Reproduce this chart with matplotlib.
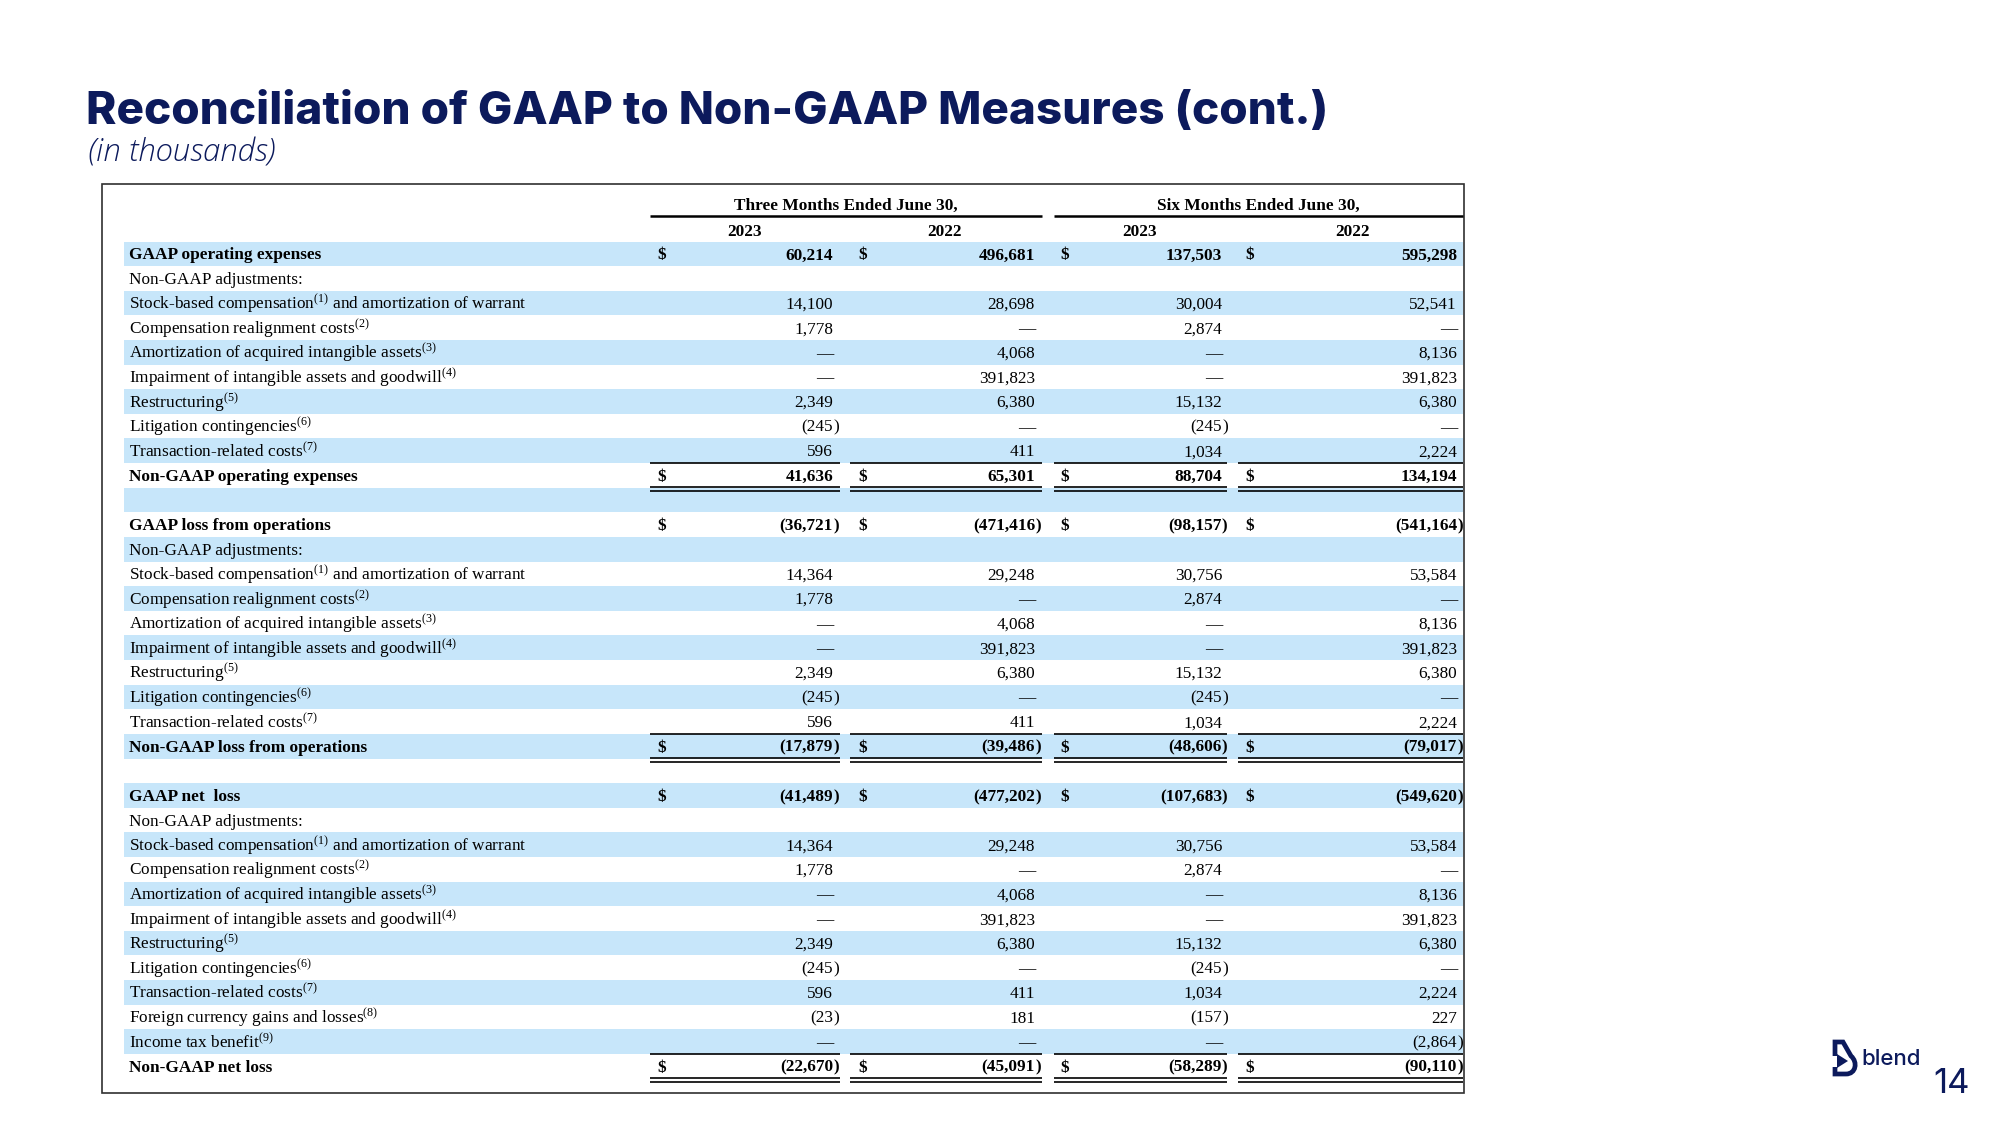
import matplotlib.pyplot as plt
from matplotlib.patches import Rectangle, Polygon
from matplotlib.path import Path
from matplotlib.patches import PathPatch

plt.rcParams['mathtext.fontset'] = 'custom'
plt.rcParams['mathtext.rm'] = 'Liberation Serif'
plt.rcParams['mathtext.it'] = 'Liberation Serif:italic'
plt.rcParams['mathtext.bf'] = 'Liberation Serif:bold'

NAVY = '#0c1a5c'
BAND = '#c7e6fa'
SERIF = 'Liberation Serif'

title = 'Reconciliation of GAAP to Non-GAAP Measures (cont.)'
subtitle = '(in thousands)'
period_titles = ['Three Months Ended June 30,', 'Six Months Ended June 30,']
col_years = ['2023', '2022', '2023', '2022']

# row kinds: gaap = bold with $, head = sub-heading, item, total = bold with $ and rules, blank
row_kinds = (['gaap', 'head'] + ['item'] * 7 + ['total', 'blank']
             + ['gaap', 'head'] + ['item'] * 7 + ['total', 'blank']
             + ['gaap', 'head'] + ['item'] * 9 + ['total'])

row_labels = [
    'GAAP operating expenses',
    'Non-GAAP adjustments:',
    'Stock-based compensation$^{(1)}$ and amortization of warrant',
    'Compensation realignment costs$^{(2)}$',
    'Amortization of acquired intangible assets$^{(3)}$',
    'Impairment of intangible assets and goodwill$^{(4)}$',
    'Restructuring$^{(5)}$',
    'Litigation contingencies$^{(6)}$',
    'Transaction-related costs$^{(7)}$',
    'Non-GAAP operating expenses',
    '',
    'GAAP loss from operations',
    'Non-GAAP adjustments:',
    'Stock-based compensation$^{(1)}$ and amortization of warrant',
    'Compensation realignment costs$^{(2)}$',
    'Amortization of acquired intangible assets$^{(3)}$',
    'Impairment of intangible assets and goodwill$^{(4)}$',
    'Restructuring$^{(5)}$',
    'Litigation contingencies$^{(6)}$',
    'Transaction-related costs$^{(7)}$',
    'Non-GAAP loss from operations',
    '',
    'GAAP net  loss',
    'Non-GAAP adjustments:',
    'Stock-based compensation$^{(1)}$ and amortization of warrant',
    'Compensation realignment costs$^{(2)}$',
    'Amortization of acquired intangible assets$^{(3)}$',
    'Impairment of intangible assets and goodwill$^{(4)}$',
    'Restructuring$^{(5)}$',
    'Litigation contingencies$^{(6)}$',
    'Transaction-related costs$^{(7)}$',
    'Foreign currency gains and losses$^{(8)}$',
    'Income tax benefit$^{(9)}$',
    'Non-GAAP net loss',
]

# None = empty cell, 0 = dash
three_2023 = [60214, None, 14100, 1778, 0, 0, 2349, -245, 596, 41636, None,
              -36721, None, 14364, 1778, 0, 0, 2349, -245, 596, -17879, None,
              -41489, None, 14364, 1778, 0, 0, 2349, -245, 596, -23, 0, -22670]
three_2022 = [496681, None, 28698, 0, 4068, 391823, 6380, 0, 411, 65301, None,
              -471416, None, 29248, 0, 4068, 391823, 6380, 0, 411, -39486, None,
              -477202, None, 29248, 0, 4068, 391823, 6380, 0, 411, 181, 0, -45091]
six_2023 = [137503, None, 30004, 2874, 0, 0, 15132, -245, 1034, 88704, None,
            -98157, None, 30756, 2874, 0, 0, 15132, -245, 1034, -48606, None,
            -107683, None, 30756, 2874, 0, 0, 15132, -245, 1034, -157, 0, -58289]
six_2022 = [595298, None, 52541, 0, 8136, 391823, 6380, 0, 2224, 134194, None,
            -541164, None, 53584, 0, 8136, 391823, 6380, 0, 2224, -79017, None,
            -549620, None, 53584, 0, 8136, 391823, 6380, 0, 2224, 227, -2864, -90110]
columns = [three_2023, three_2022, six_2023, six_2022]

# layout (pixel space of the 2000x1125 slide)
ROW0, ROW_H = 241.5, 24.62
BOX = (102, 184, 1464, 1093)
BAND_X = (124, 1463)
LABEL_X = 129
DOLLAR_X = [657, 858, 1060, 1245]
NUM_RIGHT = [833, 1035, 1222, 1457]
SEGMENTS = [(650, 840), (850, 1042), (1054, 1227), (1238, 1463)]
HEAD_SPANS = [(650, 1042), (1054, 1463)]
YEAR_X = [745, 945, 1140, 1352]
FS = 12.4

fig = plt.figure(figsize=(20, 11.25), dpi=100)
ax = fig.add_axes([0, 0, 1, 1])
ax.set_xlim(0, 2000)
ax.set_ylim(1125, 0)
ax.axis('off')

ax.text(86, 124, title, fontsize=33, fontweight='heavy', family='Inter',
        color=NAVY, va='baseline')
ax.text(88, 161, subtitle, fontsize=22.5, style='italic', fontweight='light',
        family='Open Sans', color=NAVY, va='baseline')

ax.add_patch(Rectangle((BOX[0], BOX[1]), BOX[2] - BOX[0], BOX[3] - BOX[1],
                       fill=False, edgecolor='#303030', lw=1.2))

# column headers
for (x0, x1), txt in zip(HEAD_SPANS, period_titles):
    ax.text((x0 + x1) / 2, 210, txt, family=SERIF, fontsize=FS, fontweight='bold',
            ha='center', va='baseline')
    ax.plot([x0, x1], [216, 216], color='black', lw=1.8, solid_capstyle='butt')
for x, yr in zip(YEAR_X, col_years):
    ax.text(x, 236, yr, family=SERIF, fontsize=FS, fontweight='bold',
            ha='center', va='baseline')


def fmt(v):
    if v == 0:
        return '—', ''
    if v < 0:
        return '({:,}'.format(-v), ')'
    return '{:,}'.format(v), ''


for i, (label, kind) in enumerate(zip(row_labels, row_kinds)):
    top = ROW0 + i * ROW_H
    if i % 2 == 0:
        ax.add_patch(Rectangle((BAND_X[0], top), BAND_X[1] - BAND_X[0], ROW_H,
                               facecolor=BAND, edgecolor='none'))
    if kind == 'blank':
        continue
    base = top + ROW_H / 2 + 5.6
    bold = 'bold' if kind in ('gaap', 'total') else 'normal'
    ax.text(LABEL_X, base, label, family=SERIF, fontsize=FS, fontweight=bold,
            va='baseline')
    for c, col in enumerate(columns):
        v = col[i]
        if v is None:
            continue
        body, tail = fmt(v)
        ax.text(NUM_RIGHT[c], base, body, family=SERIF, fontsize=FS,
                fontweight=bold, ha='right', va='baseline')
        if tail:
            ax.text(NUM_RIGHT[c], base, tail, family=SERIF, fontsize=FS,
                    fontweight=bold, ha='left', va='baseline')
        if kind in ('gaap', 'total'):
            ax.text(DOLLAR_X[c], base, '$', family=SERIF, fontsize=FS,
                    fontweight='bold', ha='left', va='baseline')
    if kind == 'total':
        for x0, x1 in SEGMENTS:
            ax.plot([x0, x1], [top, top], color='black', lw=1.2, solid_capstyle='butt')
            ax.plot([x0, x1], [top + ROW_H - 0.5] * 2, color='black', lw=1.2,
                    solid_capstyle='butt')
            ax.plot([x0, x1], [top + ROW_H + 3] * 2, color='black', lw=1.2,
                    solid_capstyle='butt')

# blend logo: B-shaped stroke with a play triangle
logo = Path([(1835, 1056), (1835, 1042), (1843, 1042), (1851, 1056),
             (1858, 1062), (1856, 1074), (1846, 1074), (1835, 1074),
             (1835, 1067)],
            [Path.MOVETO, Path.LINETO, Path.LINETO, Path.LINETO,
             Path.CURVE4, Path.CURVE4, Path.CURVE4, Path.LINETO,
             Path.LINETO])
ax.add_patch(PathPatch(logo, facecolor='none', edgecolor=NAVY, lw=3.4,
                       joinstyle='miter', capstyle='butt'))
ax.add_patch(Polygon([(1837, 1054), (1837, 1068), (1848, 1061)], closed=True,
                     facecolor=NAVY, edgecolor='none'))
ax.text(1861, 1065, 'blend', family='Inter', fontsize=16, fontweight='medium',
        color=NAVY, va='baseline')
ax.text(1933, 1093, '14', family='Inter', fontsize=25, color=NAVY, va='baseline')

fig.savefig('out.png', dpi=100)
